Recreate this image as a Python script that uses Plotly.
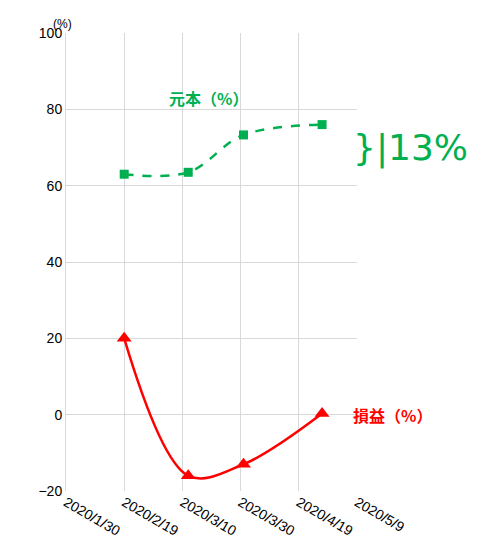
import plotly.graph_objects as go

dates = ["2020-02-19", "2020-03-12", "2020-03-31", "2020-04-27"]
principal = [63.0, 63.5, 73.3, 76.0]
profit = [20.0, -16.0, -13.0, 0.3]
tick_dates = ["2020-01-30", "2020-02-19", "2020-03-10", "2020-03-30", "2020-04-19", "2020-05-09"]
tick_text = ["2020/1/30", "2020/2/19", "2020/3/10", "2020/3/30", "2020/4/19", "2020/5/9"]

green = "#00b050"
red = "#ff0000"
fig = go.Figure()
fig.add_trace(go.Scatter(x=dates, y=principal, mode="lines+markers",
    line=dict(color=green, width=2.5, dash="dash", shape="spline"),
    marker=dict(symbol="square", size=9, color=green)))
fig.add_trace(go.Scatter(x=dates, y=profit, mode="lines+markers",
    line=dict(color=red, width=2.5, shape="spline"),
    marker=dict(symbol="triangle-up", size=13, color=red)))

fig.add_annotation(x="2020-03-19", y=83, text="<b>元本（%）</b>", showarrow=False,
    font=dict(color=green, size=16, family="Noto Sans CJK JP"))
fig.add_annotation(x=0.98, xref="paper", xanchor="left", y=0, text="<b>損益（%）</b>", showarrow=False,
    font=dict(color=red, size=16, family="Noto Sans CJK JP"))
fig.add_annotation(x=0.98, xref="paper", xanchor="left", y=70, text="}|13%", showarrow=False,
    font=dict(color=green, size=36, family="DejaVu Sans"))
fig.add_annotation(x=-0.05, xref="paper", y=1.0, yref="paper", yanchor="bottom", text="(%)",
    showarrow=False, font=dict(size=12, color="#000"))

fig.update_layout(width=495, height=554, margin=dict(l=58, r=146, t=25, b=71, autoexpand=False),
    plot_bgcolor="white", paper_bgcolor="white", showlegend=False,
    font=dict(family="Liberation Sans", size=14, color="#000"))
fig.update_xaxes(range=["2020-01-30", "2020-05-09"], tickvals=tick_dates, ticktext=tick_text,
    tickangle=30, showgrid=True, gridcolor="#d9d9d9", zeroline=False, showline=False, automargin=False)
fig.update_yaxes(range=[-20, 100], dtick=20, showgrid=True, gridcolor="#d9d9d9",
    zeroline=False, showline=True, linecolor="#d9d9d9", automargin=False)
fig.write_html("out.html")
